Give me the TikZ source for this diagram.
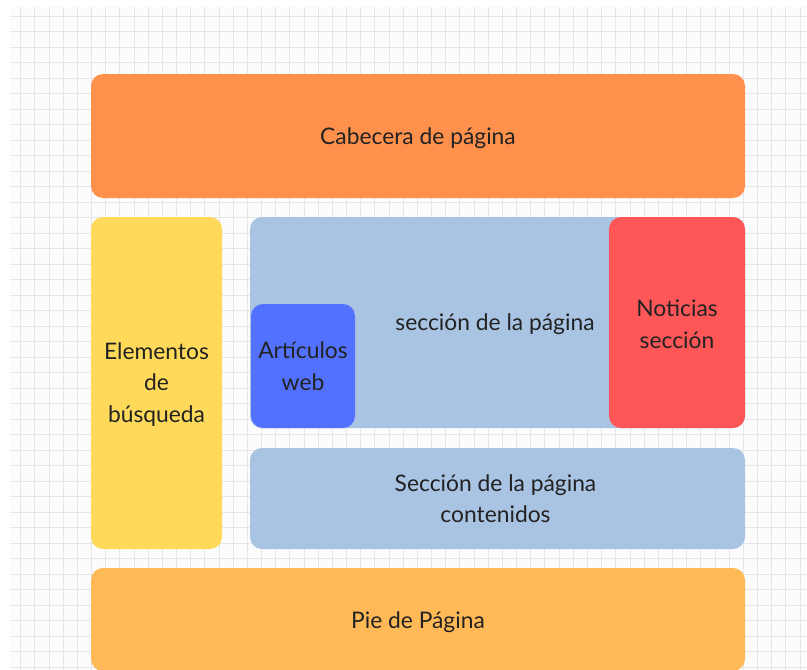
\documentclass[tikz,border=0pt]{standalone}
\usepackage{fontspec}
\setmainfont{Lato}
\definecolor{gridbg}{HTML}{FCFCFC}
\definecolor{gridline}{HTML}{E6E6E6}
\definecolor{headc}{HTML}{FF914D}
\definecolor{yelc}{HTML}{FFDA5A}
\definecolor{lblue}{HTML}{A9C4E3}
\definecolor{redc}{HTML}{FF5757}
\definecolor{bluec}{HTML}{5271FF}
\definecolor{footc}{HTML}{FFBA57}
\definecolor{textc}{HTML}{222222}
\begin{document}
\begin{tikzpicture}[x=1pt,y=-1pt,
  box/.style={rounded corners=12pt, draw=none, inner sep=0pt},
  lbl/.style={inner sep=0pt, text=textc, align=center, font=\fontsize{22.8}{31.5}\selectfont},
  gl/.style={draw=gridline, line width=1pt}]
\useasboundingbox (0,0) rectangle (807,670);
\fill[gridbg] (10,7) rectangle (807,670);
\foreach \i in {0,...,55} \draw[gl] ({20.7+14.17*\i},7) -- ({20.7+14.17*\i},670);
\foreach \j in {0,...,42} \draw[gl] (10,{16+15.5*\j}) -- (807,{16+15.5*\j});
\node[box, fill=headc, minimum width=654pt, minimum height=124pt] (header) at (418,136) {};
\node[box, fill=yelc, minimum width=131pt, minimum height=332pt] (search) at (156.5,383) {};
\node[box, fill=lblue, minimum width=495pt, minimum height=211pt] (section) at (497.5,322.5) {};
\node[box, fill=redc, minimum width=136pt, minimum height=211pt] (news) at (677,322.5) {};
\node[box, fill=bluec, minimum width=104pt, minimum height=124pt] (articles) at (303,366) {};
\node[box, fill=lblue, minimum width=495pt, minimum height=101pt] (content) at (497.5,498.5) {};
\node[box, fill=footc, minimum width=654pt, minimum height=103pt] (footer) at (418,619.5) {};
\node[lbl] (headerT) at ([yshift=-2pt]header.center) {Cabecera de página};
\node[lbl] (searchT) at ([yshift=-1.5pt]search.center) {Elementos\\de\\búsqueda};
\node[lbl] (sectionT) at ([xshift=-2.5pt,yshift=-1.5pt]section.center) {sección de la página};
\node[lbl] (newsT) at ([yshift=-1.5pt]news.center) {Noticias\\sección};
\node[lbl] (articlesT) at ([yshift=0pt]articles.center) {Artículos\\web};
\node[lbl] (contentT) at ([xshift=-2pt,yshift=0pt]content.center) {Sección de la página\\contenidos};
\node[lbl] (footerT) at ([yshift=-2.5pt]footer.center) {Pie de Página};
\end{tikzpicture}
\end{document}
